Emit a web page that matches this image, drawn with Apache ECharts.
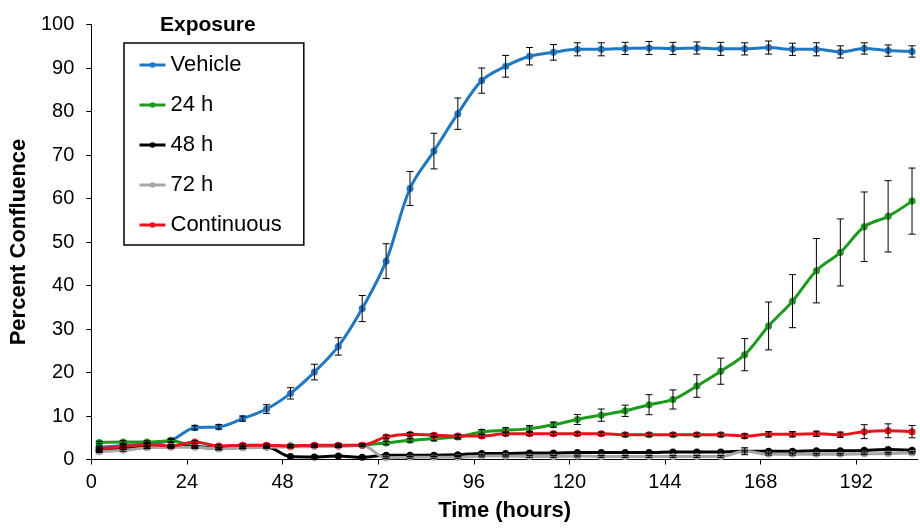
<!DOCTYPE html>
<html><head><meta charset="utf-8">
<script src="https://cdn.jsdelivr.net/npm/echarts@6/dist/echarts.min.js"></script>
<style>html,body{margin:0;padding:0;background:#fff}#c{width:920px;height:529px}</style>
</head><body><div id="c"></div>
<script>
var times = [2,8,14,20,26,32,38,44,50,56,62,68,74,80,86,92,98,104,110,116,122,128,134,140,146,152,158,164,170,176,182,188,194,200,206];
var xTicks = [0,24,48,72,96,120,144,168,192];
var vehicle = [2.8,3.2,3.6,4.4,7.3,7.5,9.4,11.6,15.2,20.1,26.0,34.7,45.6,62.3,70.9,79.5,87.1,90.4,92.7,93.6,94.3,94.3,94.5,94.6,94.5,94.6,94.4,94.4,94.7,94.3,94.3,93.7,94.5,94.0,93.8];
var vehicleErr = [0.3,0.3,0.3,0.4,0.5,0.5,0.6,1.0,1.3,1.8,2.0,3.0,4.0,3.9,4.1,3.6,2.9,2.5,2.0,1.8,1.5,1.5,1.4,1.5,1.4,1.4,1.5,1.4,1.5,1.4,1.5,1.4,1.3,1.3,1.3];
var h24 = [3.9,4.0,4.0,4.3,2.9,2.5,2.8,3.0,3.1,3.2,3.2,3.3,3.8,4.4,4.8,5.2,6.3,6.7,7.1,8.0,9.2,10.2,11.2,12.6,13.8,16.9,20.3,24.1,30.7,36.4,43.4,47.6,53.5,55.9,59.4];
var h24Err = [0.3,0.3,0.3,0.3,0.3,0.3,0.3,0.3,0.3,0.3,0.3,0.3,0.4,0.4,0.5,0.5,0.6,0.6,0.7,0.6,1.15,1.4,1.3,2.3,2.2,2.6,3.0,3.7,5.5,6.1,7.4,7.7,8.0,8.2,7.6];
var h48 = [2.0,2.5,2.8,3.0,3.0,2.6,2.8,2.9,0.7,0.6,0.8,0.5,1.0,1.0,1.0,1.1,1.4,1.4,1.5,1.5,1.6,1.6,1.6,1.6,1.75,1.75,1.75,1.9,1.9,1.9,2.0,2.0,2.1,2.3,2.1];
var h48Err = [0.2,0.2,0.2,0.2,0.2,0.2,0.2,0.2,0.2,0.2,0.2,0.2,0.2,0.2,0.2,0.2,0.2,0.2,0.2,0.2,0.2,0.2,0.2,0.2,0.2,0.2,0.2,0.2,0.2,0.2,0.2,0.2,0.2,0.3,0.3];
var h72 = [1.8,2.1,2.7,2.8,2.8,2.5,2.7,2.8,2.9,3.0,3.0,3.2,0.4,0.5,0.5,0.5,0.8,0.8,0.7,0.7,0.8,0.7,0.7,0.7,0.7,0.7,0.7,1.9,1.2,1.2,1.2,1.2,1.3,1.4,1.5];
var h72Err = [0.2,0.2,0.2,0.2,0.2,0.2,0.2,0.2,0.2,0.2,0.2,0.2,0.2,0.2,0.2,0.2,0.2,0.2,0.2,0.2,0.2,0.2,0.2,0.2,0.2,0.2,0.2,0.8,0.2,0.2,0.2,0.2,0.2,0.2,0.2];
var continuous = [2.5,3.0,3.4,3.1,4.0,3.1,3.3,3.3,3.1,3.3,3.3,3.3,5.2,5.8,5.6,5.4,5.4,5.9,5.9,5.9,5.9,5.9,5.7,5.7,5.7,5.7,5.7,5.4,5.8,5.8,5.9,5.7,6.4,6.6,6.4];
var continuousErr = [0.3,0.3,0.3,0.3,0.3,0.3,0.3,0.3,0.3,0.3,0.3,0.3,0.4,0.4,0.4,0.4,0.4,0.4,0.4,0.4,0.4,0.4,0.4,0.4,0.4,0.4,0.4,0.5,0.6,0.6,0.6,0.6,1.6,1.6,1.4];

var names = ['Vehicle','24 h','48 h','72 h','Continuous'];
var colors = ['#1f78c1','#1c9a1c','#000000','#a6a6a6','#e8141b'];
var values = [vehicle,h24,h48,h72,continuous];
var errs = [vehicleErr,h24Err,h48Err,h72Err,continuousErr];

var chart = echarts.init(document.getElementById('c'));
var series = [];
names.forEach(function(n,i){
  series.push({
    name:n, type:'line', smooth:0.35, symbol:'circle', symbolSize:7,
    data: times.map(function(t,k){return [t, values[i][k]];}),
    lineStyle:{color:colors[i], width:3},
    itemStyle:{color:colors[i]},
    z: 2+i
  });
});
var errData = [];
names.forEach(function(n,i){
  times.forEach(function(t,k){
    errData.push([t, values[i][k]-errs[i][k], values[i][k]+errs[i][k]]);
  });
});
series.push({
  type:'custom', z:20, silent:true,
  data: errData,
  encode:{x:0, y:[1,2]},
  renderItem:function(params, api){
    var lo = api.coord([api.value(0), api.value(1)]);
    var hi = api.coord([api.value(0), api.value(2)]);
    var hw = 3.5;
    var st = {stroke:'#000', lineWidth:1};
    return {type:'group', children:[
      {type:'line', shape:{x1:lo[0],y1:lo[1],x2:hi[0],y2:hi[1]}, style:st},
      {type:'line', shape:{x1:lo[0]-hw,y1:lo[1],x2:lo[0]+hw,y2:lo[1]}, style:st},
      {type:'line', shape:{x1:hi[0]-hw,y1:hi[1],x2:hi[0]+hw,y2:hi[1]}, style:st}
    ]};
  }
});

var font = 'Liberation Sans, Arial, sans-serif';
chart.setOption({
  animation:false,
  title:{text:'Exposure', left:155, top:10, textStyle:{fontFamily:font, fontSize:21, fontWeight:'bold', color:'#000'}},
  legend:{
    orient:'vertical', left:124, top:43, data:names,
    itemWidth:26, itemHeight:7, itemGap:16,
    padding:[10,22,8,14],
    borderColor:'#000', borderWidth:1.5,
    lineStyle:{width:3},
    textStyle:{fontFamily:font, fontSize:22, color:'#000', lineHeight:24}
  },
  grid:{left:90, top:24.5, width:828, height:435},
  xAxis:{
    type:'value', min:0, max:207.5, interval:24,
    name:'Time (hours)', nameLocation:'middle', nameGap:40,
    nameTextStyle:{fontFamily:font, fontSize:22, fontWeight:'bold', color:'#000'},
    axisLine:{lineStyle:{color:'#000', width:1}},
    axisTick:{show:true, length:5, lineStyle:{color:'#000'}, customValues:xTicks},
    axisLabel:{fontFamily:font, fontSize:20, color:'#000', margin:13, customValues:xTicks},
    splitLine:{show:false}
  },
  yAxis:{
    type:'value', min:0, max:100, interval:10,
    name:'Percent Confluence', nameLocation:'middle', nameGap:53,
    nameTextStyle:{fontFamily:font, fontSize:22, fontWeight:'bold', color:'#000'},
    axisLine:{show:true, lineStyle:{color:'#000', width:1}},
    axisTick:{show:true, length:5, lineStyle:{color:'#000'}},
    axisLabel:{fontFamily:font, fontSize:20, color:'#000', margin:17},
    splitLine:{show:false}
  },
  series:series
});
</script></body></html>
